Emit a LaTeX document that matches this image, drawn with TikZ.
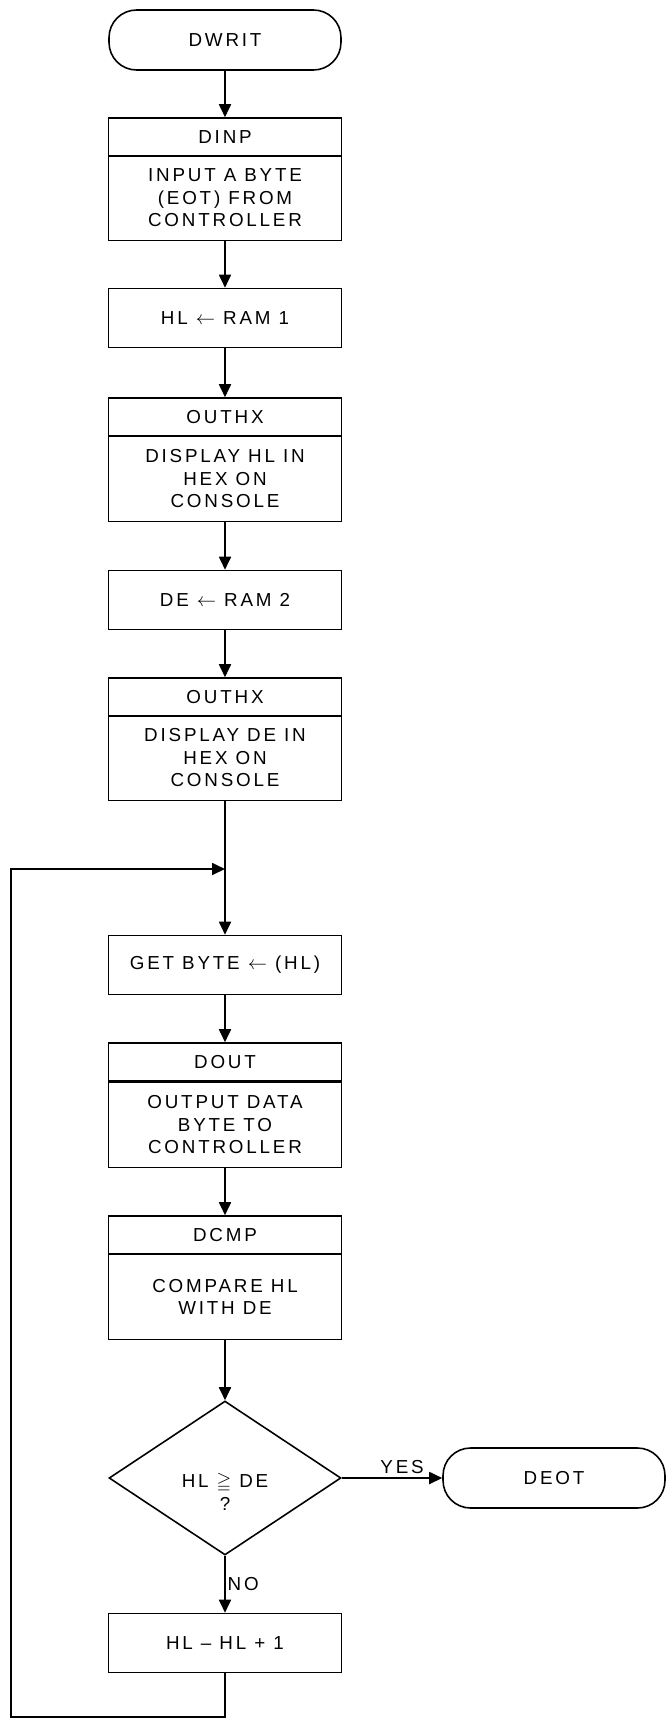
\documentclass[tikz,border=0pt]{standalone}
\usepackage{amssymb}
\usepackage{fontspec}
\setmainfont{Liberation Sans}[LetterSpace=15]
\usetikzlibrary{arrows.meta,shapes.geometric}

\begin{document}
\begin{tikzpicture}[x=0.02cm, y=0.02cm,
    font=\fontsize{10.7pt}{12.8pt}\selectfont,
    >={Triangle[width=0.24cm,length=0.26cm]},
    box/.style={draw, line width=0.9pt, minimum width=4.66cm, minimum height=1.18cm, align=center, inner sep=0pt},
    head/.style={box, minimum height=0.76cm},
    body/.style={box, minimum height=1.7cm},
    term/.style={draw, line width=0.9pt, rounded corners=0.55cm, minimum width=4.64cm, minimum height=1.2cm},
    test/.style={draw, line width=0.9pt, diamond, aspect=1.5, minimum width=4.64cm, minimum height=3.08cm, inner sep=0pt},
    flow/.style={->, line width=1pt}]
    \useasboundingbox (0,0) rectangle (668,-1721);
    % nodes
    \node[term] (dwrit) at (225,-40) {DWRIT};
    \node[head] (dinph) at (225,-137) {DINP};
    \node[body] (dinp) at (225,-198) {INPUT A BYTE\\(EOT) FROM\\CONTROLLER};
    \node[box] (ram1) at (225,-318) {HL $\leftarrow$ RAM 1};
    \node[head] (outh1) at (225,-417) {OUTHX};
    \node[body] (out1) at (225,-479) {DISPLAY HL IN\\HEX ON\\CONSOLE};
    \node[box] (ram2) at (225,-600) {DE $\leftarrow$ RAM 2};
    \node[head] (outh2) at (225,-697) {OUTHX};
    \node[body] (out2) at (225,-758) {DISPLAY DE IN\\HEX ON\\CONSOLE};
    \coordinate (join) at (225,-869);
    \node[box] (getb) at (225,-965) {GET BYTE $\leftarrow$ (HL)};
    \node[head] (douth) at (225,-1062) {DOUT};
    \node[body] (dout) at (225,-1125) {OUTPUT DATA\\BYTE TO\\CONTROLLER};
    \node[head] (dcmph) at (225,-1235) {DCMP};
    \node[body] (dcmp) at (225,-1297) {COMPARE HL\\WITH DE};
    \node[test] (dec) at (225,-1478) {};
    \node[align=center] (dectxt) at (225,-1492) {HL $\geqq$ DE\\?};
    \node[term, minimum width=4.44cm] (deot) at (554,-1478) {DEOT};
    \node[box] (inc) at (225,-1643) {HL -- HL + 1};
    \coordinate (back) at (11,-1717);
    % connectors
    \draw[flow] (dwrit) -- (dinph);
    \draw[flow] (dinp) -- (ram1);
    \draw[flow] (ram1) -- (outh1);
    \draw[flow] (out1) -- (ram2);
    \draw[flow] (ram2) -- (outh2);
    \draw[flow] (out2) -- (getb);
    \draw[flow] (getb) -- (douth);
    \draw[flow] (dout) -- (dcmph);
    \draw[flow] (dcmp) -- (dec);
    \draw[flow] (dec.east) -- node[above, pos=0.6, inner sep=2pt] {YES} (deot.west);
    \draw[flow] (dec.south) -- node[right, inner sep=1pt] {NO} (inc.north);
    % loop back
    \draw[flow] (inc.south) |- (back) |- (join);
\end{tikzpicture}
\end{document}
